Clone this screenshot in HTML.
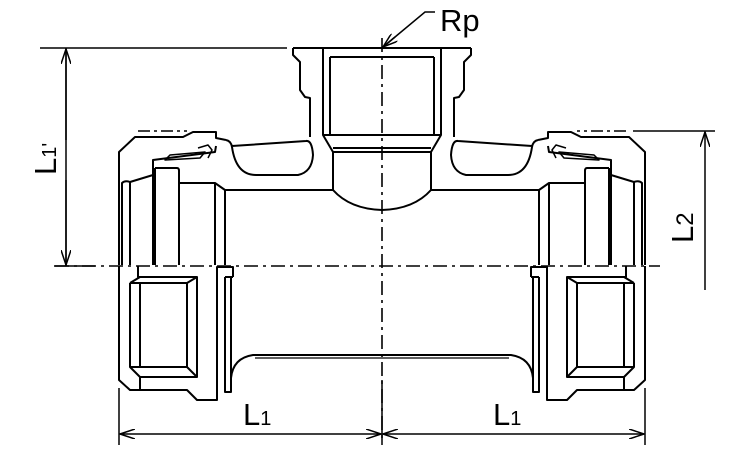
<!DOCTYPE html>
<html><head><meta charset="utf-8"><style>html,body{margin:0;padding:0;background:#fff}svg{display:block}</style></head>
<body>
<svg width="750" height="450" viewBox="0 0 750 450" xmlns="http://www.w3.org/2000/svg">
<defs>
<marker id="ar" markerWidth="16" markerHeight="10" refX="15" refY="5" orient="auto" markerUnits="userSpaceOnUse">
<path d="M0,0 L15,5 L0,10" fill="none" stroke="#000" stroke-width="1.5"/></marker>
</defs>
<g id="half" fill="none" stroke="#000" stroke-width="2" stroke-linejoin="round">
  <!-- socket -->
  <path d="M293,48 L293,55 L300,62 L300,90 L305,97 L310,98 L310,137"/>
  <path d="M382,48 L293,48"/>
  <path d="M323,48 L323,135 L333,152 L333,190"/>
  <path d="M330,57 L382,57 M330,57 L330,135 M323,135 L382,135 M333,152 L382,152 M333,148 L382,148"/>
  <path d="M333,190 Q350,209 382,210"/>
  <!-- saddle recess -->
  <path d="M226,140 Q231,141 232,147 Q236,175 256,175 L298,175 Q312,172 313,155 Q312,140 306,141 L232,146"/>
  <!-- body top line -->
  <path d="M225,190 L333,190"/>
  <!-- nut top -->
  <path d="M119,265 L119,152 L135,137 L183,137 L193,132 L216,132 L216,138 L226,140"/>
  <path d="M138,131 L187,131" stroke-dasharray="12,4,3,4" stroke-width="1.5"/>
  <path d="M122,265 L122,183 Q125,180 130,182 L153,175 L153,160 L215,152 L216,146"/>
  <path d="M165,160 L170,155 L205,152 L200,158 Z" stroke-width="1.5"/>
  <path d="M198,148 L208,145 L212,150 L208,158" stroke-width="1.5"/>
  <path d="M130,182 L130,265 M153,175 L153,265 M155,168 L155,265 M179,170 L179,265"/>
  <path d="M155,168 L177,168 Q179,168 179,171"/>
  <path d="M179,183 L215,183 L225,190 L225,265 M215,183 L215,265"/>
  <!-- lower half -->
  <path d="M119,266 L119,380 L130,390 L187,390 L197,400 L217,400 L217,267 L233,267 L233,277"/>
  <path d="M138,266 L138,277 L197,277 L197,377 L140,377 L140,390"/>
  <path d="M130,283 L130,367 L140,377 M130,283 L140,277 M140,283 L187,283 L187,367 L140,367 Z M130,283 L140,283 M130,367 L140,367 M187,283 L197,277 M187,367 L197,377"/>
  <path d="M225,277 L225,392 L231,392 L231,378 M231,277 L231,378 Q233,358 253,355 L382,355 M225,277 L233,277"/>
  <path d="M255,358 L382,358" stroke-width="1.2"/>
</g>
<use href="#half" transform="translate(764,0) scale(-1,1)"/>
<!-- L2 top extension on right -->
<path d="M633,131 L715,131" stroke="#000" stroke-width="1.5"/>
<!-- center lines -->
<g stroke="#000" stroke-width="1.6" fill="none" stroke-dasharray="14,5,3,5">
  <path d="M55,266 L660,266"/>
  <path d="M382,38 L382,440"/>
</g>
<!-- dimensions -->
<g stroke="#000" stroke-width="1.5" fill="none">
  <path d="M40,48 L287,48"/>
  <path d="M54,266 L95,266"/>
  <path d="M66,60 L66,48 M66,48 L66,266" />
  <path d="M66,140 L66,49" marker-end="url(#ar)"/>
  <path d="M66,180 L66,265" marker-end="url(#ar)"/>
  <path d="M705,290 L705,132" marker-end="url(#ar)"/>
  <path d="M119,388 L119,445 M645,388 L645,445 M382,380 L382,445"/>
  <path d="M250,434 L120,434" marker-end="url(#ar)"/>
  <path d="M250,434 L381,434" marker-end="url(#ar)"/>
  <path d="M515,434 L383,434" marker-end="url(#ar)"/>
  <path d="M515,434 L644,434" marker-end="url(#ar)"/>
  <path d="M435,12 L425,12 L383,47" />
  <path d="M395,37 L383,47" marker-end="url(#ar)"/>
</g>
<g font-family="Liberation Sans, sans-serif" fill="#000">
  <text x="440" y="31" font-size="31">Rp</text>
  <text x="243" y="425" font-size="31">L<tspan font-size="20">1</tspan></text>
  <text x="493" y="425" font-size="31">L<tspan font-size="20">1</tspan></text>
  <text transform="translate(56,175) rotate(-90)" font-size="31">L<tspan font-size="20">1'</tspan></text>
  <text transform="translate(693,243) rotate(-90)" font-size="31">L<tspan font-size="24">2</tspan></text>
</g>
</svg>
</body></html>
